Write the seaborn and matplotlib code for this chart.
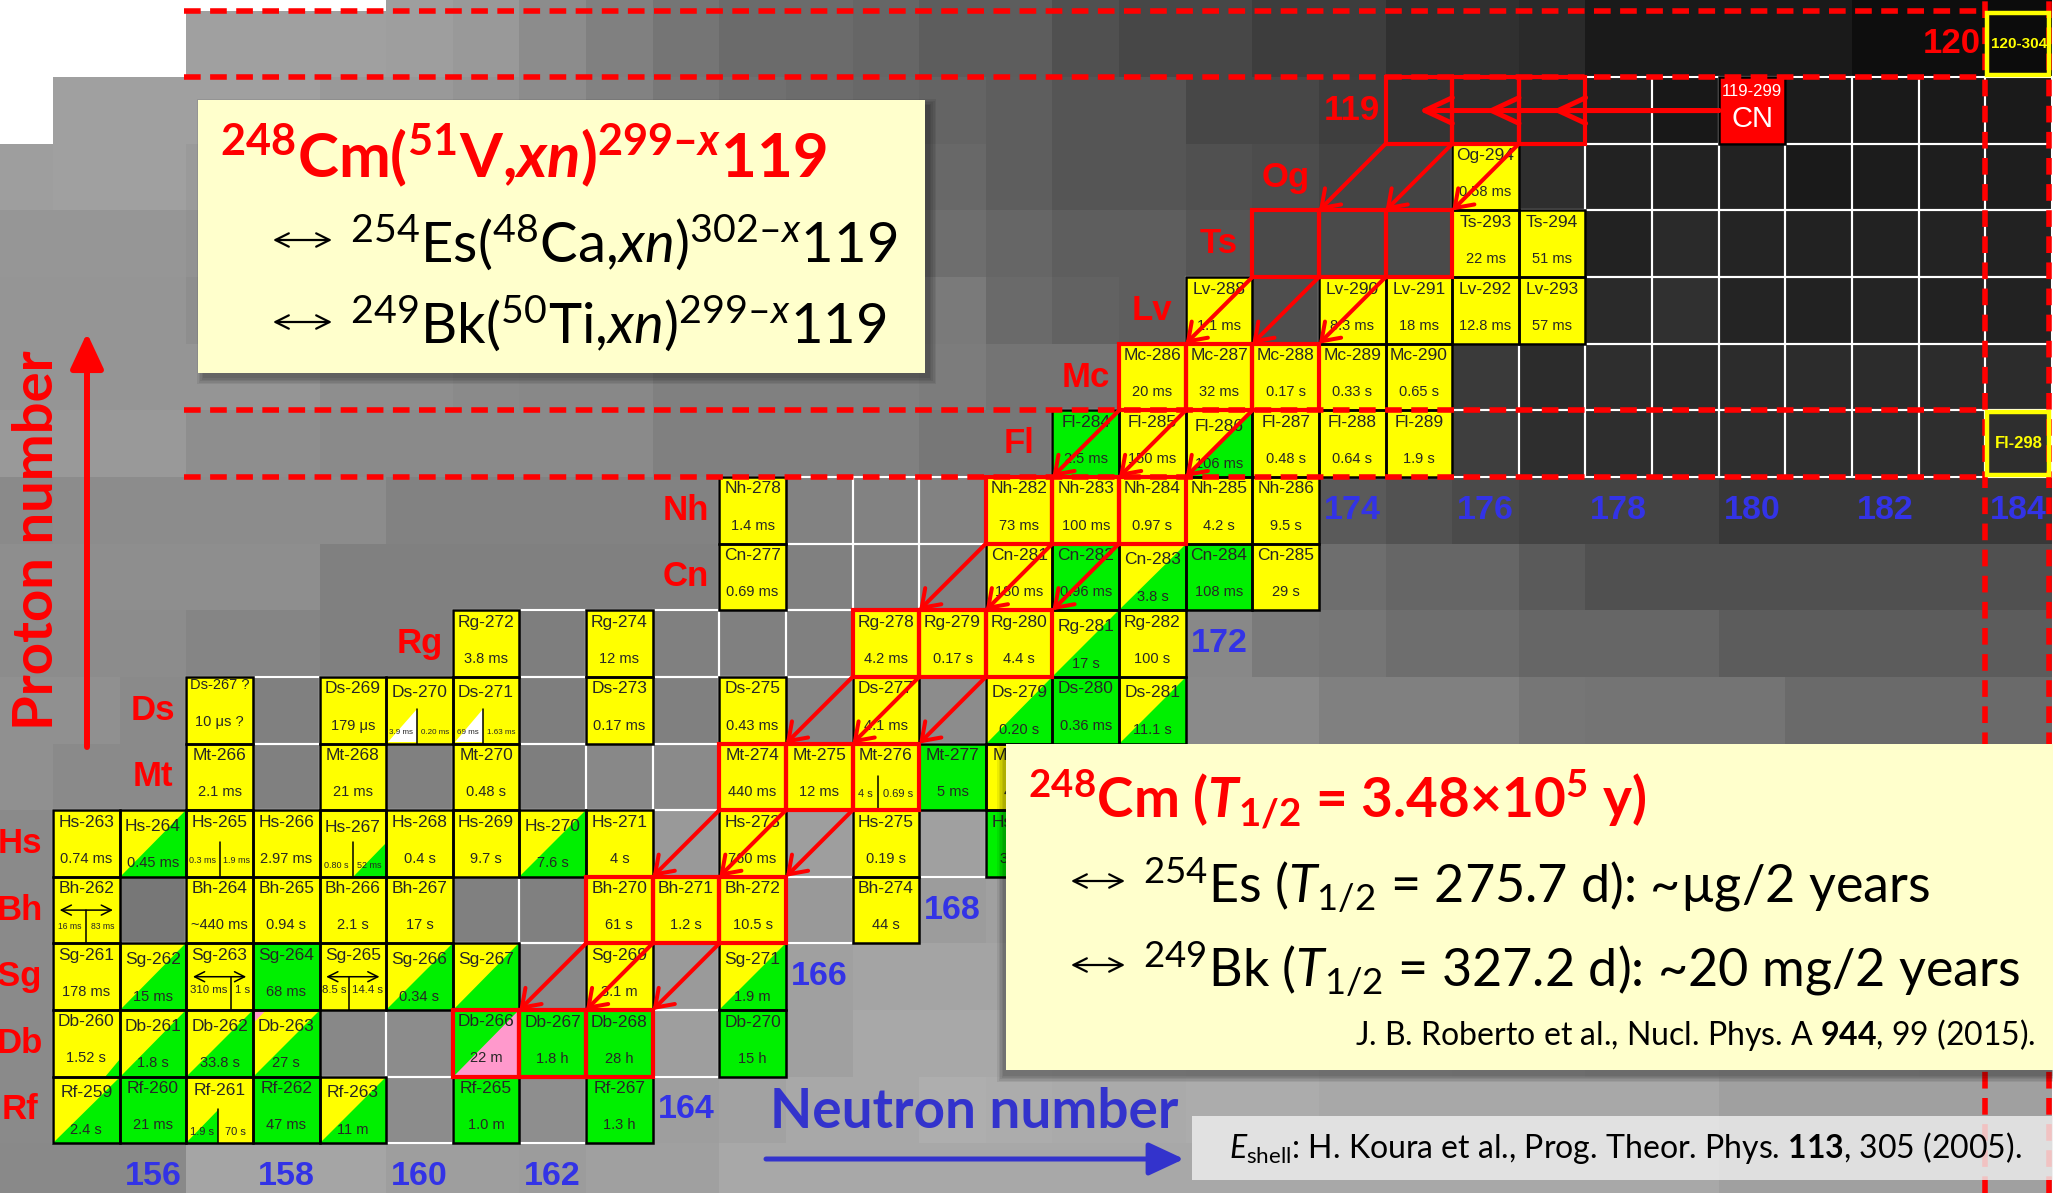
import numpy as np
import pandas as pd
import matplotlib
matplotlib.use("Agg")
import matplotlib.pyplot as plt
import seaborn as sns
from matplotlib.patches import Rectangle, Polygon

W, H, DPI = 2053, 1193, 100

# ------------------------------------------------------------------ data
ELEMENT_Z = {"Rf": 104, "Db": 105, "Sg": 106, "Bh": 107, "Hs": 108, "Mt": 109,
             "Ds": 110, "Rg": 111, "Cn": 112, "Nh": 113, "Fl": 114, "Mc": 115,
             "Lv": 116, "Ts": 117, "Og": 118}

# known nuclides per element: (mass number, colour style, half-life)
rf_cells = [(259, "yg", "2.4 s"), (260, "g", "21 ms"), (261, "split", "1.9 s|70 s"),
            (262, "g", "47 ms"), (263, "yg", "11 m"), (265, "g", "1.0 m"), (267, "g", "1.3 h")]
db_cells = [(260, "yc", "1.52 s"), (261, "yg", "1.8 s"), (262, "yg", "33.8 s"),
            (263, "pyg", "27 s"), (266, "gp", "22 m"), (267, "g", "1.8 h"),
            (268, "g", "28 h"), (270, "g", "15 h")]
sg_cells = [(261, "y", "178 ms"), (262, "yg", "15 ms"), (263, "split", "310 ms|1 s"),
            (264, "g", "68 ms"), (265, "split", "8.5 s|14.4 s"), (266, "yg", "0.34 s"),
            (267, "yg", ""), (269, "y", "3.1 m"), (271, "yg", "1.9 m")]
bh_cells = [(262, "split", "16 ms|83 ms"), (264, "y", "~440 ms"), (265, "y", "0.94 s"),
            (266, "y", "2.1 s"), (267, "y", "17 s"), (270, "y", "61 s"), (271, "y", "1.2 s"),
            (272, "y", "10.5 s"), (274, "y", "44 s")]
hs_cells = [(263, "y", "0.74 ms"), (264, "yg", "0.45 ms"), (265, "split", "0.3 ms|1.9 ms"),
            (266, "y", "2.97 ms"), (267, "split", "0.80 s|52 ms"), (268, "y", "0.4 s"),
            (269, "y", "9.7 s"), (270, "yg", "7.6 s"), (271, "y", "4 s"), (273, "y", "760 ms"),
            (275, "y", "0.19 s"), (277, "g", "34 ms")]
mt_cells = [(266, "y", "2.1 ms"), (268, "y", "21 ms"), (270, "y", "0.48 s"), (274, "y", "440 ms"),
            (275, "y", "12 ms"), (276, "split", "4 s|0.69 s"), (277, "g", "5 ms"), (278, "y", "4.5 s")]
ds_cells = [(267, "y", "10 μs ?"), (269, "y", "179 μs"), (270, "split", "3.9 ms|0.20 ms"),
            (271, "split", "69 ms|1.63 ms"), (273, "y", "0.17 ms"), (275, "y", "0.43 ms"),
            (277, "y", "4.1 ms"), (279, "yg", "0.20 s"), (280, "g", "0.36 ms"), (281, "yg", "11.1 s")]
rg_cells = [(272, "y", "3.8 ms"), (274, "y", "12 ms"), (278, "y", "4.2 ms"), (279, "y", "0.17 s"),
            (280, "y", "4.4 s"), (281, "yg", "17 s"), (282, "y", "100 s")]
cn_cells = [(277, "y", "0.69 ms"), (281, "y", "180 ms"), (282, "g", "0.96 ms"),
            (283, "yg", "3.8 s"), (284, "g", "108 ms"), (285, "y", "29 s")]
nh_cells = [(278, "y", "1.4 ms"), (282, "y", "73 ms"), (283, "y", "100 ms"),
            (284, "y", "0.97 s"), (285, "y", "4.2 s"), (286, "y", "9.5 s")]
fl_cells = [(284, "g", "2.5 ms"), (285, "y", "150 ms"), (286, "yg", "106 ms"),
            (287, "y", "0.48 s"), (288, "y", "0.64 s"), (289, "y", "1.9 s")]
mc_cells = [(286, "y", "20 ms"), (287, "y", "32 ms"), (288, "y", "0.17 s"),
            (289, "y", "0.33 s"), (290, "y", "0.65 s")]
lv_cells = [(288, "y", "1.1 ms"), (290, "y", "8.3 ms"), (291, "y", "18 ms"),
            (292, "y", "12.8 ms"), (293, "y", "57 ms")]
ts_cells = [(293, "y", "22 ms"), (294, "y", "51 ms")]
og_cells = [(294, "y", "0.58 ms")]

ALL_ROWS = {"Rf": rf_cells, "Db": db_cells, "Sg": sg_cells, "Bh": bh_cells, "Hs": hs_cells,
            "Mt": mt_cells, "Ds": ds_cells, "Rg": rg_cells, "Cn": cn_cells, "Nh": nh_cells,
            "Fl": fl_cells, "Mc": mc_cells, "Lv": lv_cells, "Ts": ts_cells, "Og": og_cells}

NAME_OVERRIDE = {("Ds", 267): "Ds-267 ?"}

# empty chart cells outlined in white: proton number -> (first N, last N)
GRID_SPANS = {104: (155, 163), 105: (155, 165), 106: (155, 165), 107: (155, 167),
              108: (155, 169), 109: (157, 169), 110: (157, 171), 111: (161, 171),
              112: (165, 173), 113: (165, 173), 114: (170, 184), 115: (171, 184),
              116: (172, 184), 117: (173, 184), 118: (176, 184), 119: (175, 184)}

# 248Cm + 51V -> 299-119 compound nucleus, xn evaporation residues and alpha chains
CN_Z, CN_A = 119, 299
CHAIN_Z = [119, 117, 115, 113, 111, 109, 107, 105]
CHAIN_N_FIRST = [175, 173, 171, 169, 167, 165, 163, 161]

# predicted spherical nuclei marked on the map
TARGET_CELLS = [(120, 304, "120-304"), (114, 298, "Fl-298")]

# row labels: (text, N position, Z position)
ROW_LABELS = [("Rf", 154, 104), ("Db", 154, 105), ("Sg", 154, 106), ("Bh", 154, 107),
              ("Hs", 154, 108), ("Mt", 156, 109), ("Ds", 156, 110), ("Rg", 160, 111),
              ("Cn", 164, 112), ("Nh", 164, 113), ("Fl", 169, 114), ("Mc", 170, 115),
              ("Lv", 171, 116), ("Ts", 172, 117), ("Og", 173, 118), ("119", 174, 119),
              ("120", 183, 120)]
# neutron-number labels: (N, Z position)
N_LABELS = [(156, 103), (158, 103), (160, 103), (162, 103), (164, 104), (166, 106),
            (168, 107), (172, 111), (174, 113), (176, 113), (178, 113), (180, 113),
            (182, 113), (184, 113)]

# shell-correction energy shading (grey level, 0 = black), N = 154..184, Z = 121..103
SHADE_N = list(range(154, 185))
SHADE_Z = list(range(121, 102, -1))
_ = np.nan
shade_rows = [
    [_, _, _, _, _, _, 158, 153, 140, 128, 117, 107, 107, 102, 93, 93, 80, 71, 71, 61, 61, 48, 48, 42, 26, 26, 26, 26, 14, 14, 12],
    [_, _, _, 160, 160, 160, 158, 153, 140, 128, 117, 107, 107, 102, 93, 93, 80, 71, 71, 61, 61, 48, 48, 42, 26, 26, 26, 26, 14, 14, 12],
    [_, 160, 160, 160, 160, 153, 153, 148, 140, 130, 120, 112, 108, 104, 100, 94, 85, 85, 71, 71, 62, 52, 48, 42, 34, 24, 24, 28, 26, 26, 26],
    [158, 160, 160, 154, 154, 150, 150, 144, 136, 128, 120, 116, 112, 108, 104, 94, 85, 85, 80, 76, 68, 68, 60, 46, 34, 34, 34, 26, 28, 30, 30],
    [150, 150, 150, 146, 146, 144, 144, 140, 134, 128, 122, 118, 116, 114, 110, 102, 94, 94, 85, 74, 74, 74, 70, 60, 34, 42, 36, 34, 34, 35, 34],
    [149, 149, 149, 142, 142, 142, 142, 138, 134, 130, 126, 122, 120, 118, 122, 106, 98, 94, 88, 78, 70, 70, 70, 70, 42, 48, 36, 34, 36, 34, 34],
    [149, 149, 149, 149, 149, 142, 142, 138, 136, 136, 128, 128, 128, 128, 124, 116, 116, 100, 100, 100, 100, 100, 58, 44, 46, 44, 44, 44, 44, 44, 44],
    [153, 153, 153, 142, 142, 138, 138, 138, 138, 138, 128, 128, 128, 128, 119, 119, 110, 110, 110, 110, 110, 110, 62, 46, 46, 46, 46, 46, 46, 46, 46],
    [138, 140, 140, 140, 140, 140, 130, 130, 130, 130, 130, 130, 130, 130, 130, 115, 115, 115, 115, 115, 90, 82, 74, 68, 68, 68, 56, 56, 56, 56, 56],
    [142, 142, 142, 142, 142, 128, 128, 128, 128, 128, 128, 128, 128, 128, 128, 118, 118, 118, 118, 118, 110, 102, 102, 90, 80, 80, 80, 80, 80, 80, 80],
    [140, 140, 140, 133, 133, 128, 128, 128, 126, 128, 128, 128, 128, 128, 128, 128, 128, 128, 136, 122, 118, 110, 110, 102, 102, 102, 92, 92, 92, 92, 92],
    [144, 144, 138, 130, 128, 126, 126, 126, 126, 126, 128, 130, 133, 136, 140, 138, 138, 138, 138, 138, 128, 128, 128, 118, 116, 116, 116, 106, 106, 106, 106],
    [144, 138, 138, 128, 128, 128, 128, 128, 126, 136, 138, 140, 140, 140, 140, 140, 140, 140, 138, 136, 134, 130, 128, 126, 124, 120, 118, 116, 114, 112, 110],
    [138, 136, 136, 136, 136, 136, 136, 136, 136, 136, 153, 155, 158, 158, 160, 160, 158, 156, 154, 150, 148, 146, 144, 140, 138, 136, 134, 132, 130, 128, 126],
    [138, 130, 119, 128, 128, 128, 128, 128, 128, 140, 140, 140, 153, 156, 156, 160, 162, 160, 158, 156, 154, 152, 150, 148, 146, 144, 142, 140, 138, 136, 134],
    [138, 134, 134, 134, 134, 134, 134, 134, 136, 148, 154, 156, 160, 164, 164, 164, 162, 160, 158, 156, 154, 152, 150, 148, 146, 144, 142, 140, 138, 136, 134],
    [138, 136, 136, 136, 136, 136, 140, 140, 142, 150, 158, 162, 160, 168, 168, 168, 166, 166, 164, 164, 162, 162, 160, 160, 158, 158, 156, 156, 154, 152, 150],
    [138, 138, 138, 138, 138, 138, 140, 142, 142, 158, 158, 162, 168, 168, 174, 172, 170, 170, 172, 172, 168, 168, 168, 168, 168, 168, 160, 160, 160, 160, 160],
    [137, 137, 137, 165, 165, 165, 158, 158, 156, 160, 160, 168, 168, 168, 168, 168, 168, 168, 168, 168, 168, 168, 168, 168, 168, 168, 160, 160, 160, 160, 160],
]
shade_df = pd.DataFrame(np.array(shade_rows, dtype=float), index=SHADE_Z, columns=SHADE_N)

# ------------------------------------------------------------------ style
YELLOW, GREEN, PINK = "#ffff00", "#00f000", "#ff99cc"
RED, BLUE = "#ff0000", "#3333e6"
BOX_YELLOW = "#ffffcc"
CELL_FONT = "Liberation Sans"

SPLIT_CELLS = {
    ("Rf", 261): dict(kind="green_left", d=0.48, fs=8.0, ty=0.175, ny=0.785),
    ("Hs", 265): dict(kind="plain", d=0.50, fs=6.5, ty=0.24, ny=0.815),
    ("Hs", 267): dict(kind="green_right", d=0.50, fs=6.5, ty=0.165, ny=0.745),
    ("Mt", 276): dict(kind="plain", d=0.38, fs=8.0, ty=0.24, ny=0.82),
    ("Ds", 270): dict(kind="white_left", d=0.46, fs=5.8, ty=0.17, ny=0.76),
    ("Ds", 271): dict(kind="white_left", d=0.46, fs=5.8, ty=0.17, ny=0.76),
    ("Bh", 262): dict(kind="arrow", d=0.49, fs=6.2, ty=0.25, ny=0.825),
    ("Sg", 263): dict(kind="arrow", d=0.675, fs=8.2, ty=0.30, ny=0.825),
    ("Sg", 265): dict(kind="arrow", d=0.44, fs=8.2, ty=0.30, ny=0.825),
}
TEXT_Y = {"y": (0.82, 0.27), "g": (0.82, 0.27), "yg": (0.76, 0.20), "yc": (0.835, 0.275),
          "pyg": (0.75, 0.20), "gp": (0.835, 0.275)}

sns.set_theme(style="white")
plt.rcParams.update({
    "mathtext.fontset": "custom",
    "mathtext.default": "regular",
    "mathtext.rm": "Lato",
    "mathtext.it": "Lato:italic",
    "mathtext.bf": "Lato:bold",
    "mathtext.bfit": "Lato:italic:bold",
    "mathtext.sf": "Lato",
})
plt.rcParams["font.family"] = ["Liberation Sans", "DejaVu Sans"]

# ------------------------------------------------------------------ geometry
CELL = 66.63            # pixels per nuclide cell
X_EDGE, Y_EDGE = 53.0, 1143.3   # left edge of N=155, bottom edge of Z=104
N_LEFT = 154.5 - X_EDGE / CELL
N_RIGHT = 154.5 + (W - X_EDGE) / CELL
Z_BOTTOM = 103.5 - (H - Y_EDGE) / CELL
Z_TOP = 103.5 + Y_EDGE / CELL

# target-material panel (pixel box) and its left edge in neutron-number units
PANEL2 = (1006, 744, 2060, 1070)
PANEL2_N = 154.5 + (PANEL2[0] - X_EDGE) / CELL
PANEL2_ZTOP = 103.5 + (Y_EDGE - PANEL2[1]) / CELL

fig = plt.figure(figsize=(W / DPI, H / DPI), dpi=DPI)
fig.patch.set_facecolor("white")
renderer = fig.canvas.get_renderer()

xspan, yspan = N_RIGHT - N_LEFT, Z_TOP - Z_BOTTOM
bg_ax = fig.add_axes([(SHADE_N[0] - 0.5 - N_LEFT) / xspan, (SHADE_Z[-1] - 0.5 - Z_BOTTOM) / yspan,
                      len(SHADE_N) / xspan, len(SHADE_Z) / yspan])
sns.heatmap(shade_df, ax=bg_ax, cmap="gray", vmin=0, vmax=255, cbar=False,
            xticklabels=False, yticklabels=False, mask=shade_df.isna())
bg_ax.set_axis_off()

ax = fig.add_axes([0, 0, 1, 1])
ax.set_xlim(N_LEFT, N_RIGHT)
ax.set_ylim(Z_BOTTOM, Z_TOP)
ax.set_axis_off()
ax.set_zorder(2)

# region of the map left visible by the target-material panel
visible_clip = Rectangle((N_LEFT - 1, Z_BOTTOM - 1), PANEL2_N - N_LEFT + 1, Z_TOP - Z_BOTTOM + 2,
                         transform=ax.transData, fc="none", ec="none")


def fpx(x, y):
    """figure-fraction position of a pixel location (origin top-left)"""
    return x / W, 1 - y / H


# white outlines of empty chart cells
for z, (n0, n1) in GRID_SPANS.items():
    for n in range(n0, n1 + 1):
        ax.add_patch(Rectangle((n - 0.5, z - 0.5), 1, 1, fill=False, ec="white", lw=1.5, zorder=1))


def tri(x0, y0, pts, color, z=3.1):
    ax.add_patch(Polygon([(x0 + a, y0 + b) for a, b in pts], closed=True, fc=color, ec="none", zorder=z))


def cell_text(x, y, s, fs, hidden, **kw):
    t = ax.text(x, y, s, ha="center", va="center", fontsize=fs, family=CELL_FONT, zorder=4, **kw)
    if hidden:
        # only the part left of the panel edge is visible: keep that part of the string
        t.set_clip_path(visible_clip)
        edge_px = PANEL2[0] + 10
        bb = t.get_window_extent(renderer)
        if bb.x1 > edge_px:
            t.set_ha("left")
            t.set_x(ax.transData.inverted().transform((bb.x0, bb.y0))[0])
            while len(t.get_text()) > 1 and t.get_window_extent(renderer).x1 > edge_px:
                t.set_text(t.get_text()[:-1].rstrip())
    return t


def draw_nuclide(sym, A, style, hl):
    Z = ELEMENT_Z[sym]
    N = A - Z
    x0, y0 = N - 0.5, Z - 0.5
    hidden = (x0 + 1 > PANEL2_N) and (y0 < PANEL2_ZTOP)
    name = NAME_OVERRIDE.get((sym, A), f"{sym}-{A}")
    base = GREEN if style in ("g", "gp") else YELLOW
    ax.add_patch(Rectangle((x0, y0), 1, 1, fc=base, ec="none", zorder=3))
    if style in ("yg", "pyg"):
        tri(x0, y0, [(0, 0), (1, 0), (1, 1)], GREEN)
    if style == "pyg":
        tri(x0, y0, [(0, 1), (0.2, 1), (0, 0.8)], PINK)
    if style == "gp":
        tri(x0, y0, [(0, 0), (1, 0), (1, 1)], PINK)
    if style == "yc":
        tri(x0, y0, [(0.78, 0), (1, 0), (1, 0.27)], GREEN)
    ax.add_patch(Rectangle((x0, y0), 1, 1, fill=False, ec="black", lw=1.8, zorder=3.5))

    name_fs = 10.5 if name.endswith("?") else 12.5
    if style == "split":
        sp = SPLIT_CELLS[(sym, A)]
        d = sp["d"]
        if sp["kind"] == "green_left":
            tri(x0, y0, [(0, 0), (d, 0), (d, 0.5)], GREEN)
        elif sp["kind"] == "green_right":
            tri(x0, y0, [(d, 0), (1, 0), (1, 0.5)], GREEN)
        elif sp["kind"] == "white_left":
            tri(x0, y0, [(0.03, 0.02), (d, 0.02), (d, 0.52)], "white")
        if sp["kind"] == "arrow":
            ax.plot([x0 + d, x0 + d], [y0, y0 + 0.5], color="black", lw=1.1, zorder=3.6)
            ax.annotate("", xy=(x0 + 0.9, y0 + 0.5), xytext=(x0 + 0.1, y0 + 0.5),
                        arrowprops=dict(arrowstyle="<->", lw=1.1, color="black", mutation_scale=18,
                                        shrinkA=0, shrinkB=0), zorder=3.6)
        else:
            ax.plot([x0 + d, x0 + d], [y0, y0 + 0.52], color="black", lw=1.1, zorder=3.6)
        left, right = hl.split("|")
        cell_text(x0 + d / 2, y0 + sp["ty"], left, sp["fs"], hidden)
        cell_text(x0 + (1 + d) / 2, y0 + sp["ty"], right, sp["fs"], hidden)
        cell_text(N, y0 + sp["ny"], name, name_fs, hidden)
    else:
        ny, ty = TEXT_Y[style]
        if name.endswith("?"):
            ny, ty = 0.875, 0.325
        cell_text(N, y0 + ny, name, name_fs, hidden)
        if hl:
            cell_text(N, y0 + ty, hl, 10.5, hidden)


for sym, cells in ALL_ROWS.items():
    for A, style, hl in cells:
        draw_nuclide(sym, A, style, hl)

# compound nucleus
cn_n = CN_A - CN_Z
ax.add_patch(Rectangle((cn_n - 0.5, CN_Z - 0.5), 1, 1, fc=RED, ec="black", lw=1.8, zorder=3.5))
ax.text(cn_n, CN_Z + 0.29, f"{CN_Z}-{CN_A}", ha="center", va="center", color="white",
        fontsize=12, family=CELL_FONT, zorder=4)
ax.text(cn_n, CN_Z - 0.12, "CN", ha="center", va="center", color="white",
        fontsize=21, family=CELL_FONT, zorder=4)

# predicted doubly-magic region boxes
for z, a, lab in TARGET_CELLS:
    n = a - z
    ax.add_patch(Rectangle((n - 0.47, z - 0.47), 0.93, 0.94, fill=False, ec=YELLOW, lw=3.2, zorder=5))
    ax.text(n, z, lab, ha="center", va="center", color=YELLOW, fontsize=11 if z == 120 else 12,
            fontweight="bold", family=CELL_FONT, zorder=5)

# magic-number bands (Z = 114, 120; N = 184)
dash = (0, (3.0, 1.7))
ax.hlines([119.5, 120.5, 113.5, 114.5], 156.47, 183.45, colors=RED, lw=4, linestyles=dash, zorder=4.5)
ax.vlines([183.5, 184.45], Z_BOTTOM, Z_TOP, colors=RED, lw=4, linestyles=dash, zorder=4.5)

# evaporation residues and their alpha-decay chains
for z, n0 in zip(CHAIN_Z, CHAIN_N_FIRST):
    for n in range(n0, n0 + 3):
        ax.add_patch(Rectangle((n - 0.5, z - 0.5), 1, 1, fill=False, ec=RED, lw=3.0, zorder=5))
for n in range(CHAIN_N_FIRST[0], CHAIN_N_FIRST[0] + 3):
    ax.annotate("", xy=(n, CN_Z), xytext=(cn_n - 0.5, CN_Z),
                arrowprops=dict(arrowstyle="->,head_length=0.9,head_width=0.42", mutation_scale=22,
                                lw=3.6, color=RED, shrinkA=0, shrinkB=0), zorder=6)
for k in range(len(CHAIN_Z) - 1):
    zp = CHAIN_Z[k]
    for n in range(CHAIN_N_FIRST[k], CHAIN_N_FIRST[k] + 3):
        ax.annotate("", xy=(n - 1.5, zp - 1.5), xytext=(n - 0.5, zp - 0.5),
                    arrowprops=dict(arrowstyle="->,head_length=0.82,head_width=0.57", mutation_scale=14.4,
                                    lw=2.9, color=RED, shrinkA=0, shrinkB=0), zorder=6)

# element / proton-number labels and neutron-number labels
for lab, n, z in ROW_LABELS:
    ax.text(n, z, lab, ha="center", va="center", color=RED, fontsize=25, fontweight="bold",
            family=CELL_FONT, zorder=5.5)
for n, z in N_LABELS:
    ax.text(n, z, str(n), ha="center", va="center", color=BLUE, fontsize=24.5, fontweight="bold",
            family=CELL_FONT, zorder=5.5)


# ------------------------------------------------------------------ text panels
def panel(x0, y0, x1, y1, fc, alpha=1.0, shadow=(0, 0), z=10):
    if shadow != (0, 0):
        sx, sy = shadow
        for k in range(5):
            e = 1.5 * k
            ax.add_patch(Rectangle(fpx(x0 + sx - e, y1 + sy + e), (x1 - x0 + 2 * e) / W,
                                   (y1 - y0 + 2 * e) / H, transform=fig.transFigure, fc="black",
                                   ec="none", alpha=0.07, zorder=z - 0.5, clip_on=False))
    ax.add_patch(Rectangle(fpx(x0, y1), (x1 - x0) / W, (y1 - y0) / H, transform=fig.transFigure,
                           fc=fc, ec="none", alpha=alpha, zorder=z, clip_on=False))


def ftext(x, y, s, **kw):
    kw.setdefault("va", "baseline")
    kw.setdefault("ha", "left")
    kw.setdefault("zorder", 11)
    ax.text(*fpx(x, y), s, transform=fig.transFigure, **kw)


def farrow(x0, y0, x1, y1, style, color, lw, ms, z=11):
    ax.annotate("", xy=fpx(x1, y1), xytext=fpx(x0, y0), xycoords="figure fraction",
                textcoords="figure fraction",
                arrowprops=dict(arrowstyle=style, lw=lw, color=color, mutation_scale=ms,
                                shrinkA=0, shrinkB=0), zorder=z)


# reaction panel
panel(198, 100, 925, 373, BOX_YELLOW, shadow=(5, 5))
ftext(220, 178, r"$^{248}$Cm($^{51}$V,$\mathbfit{xn}$)$^{299–\mathbfit{x}}$119",
      color=RED, fontsize=44.5, fontweight="bold", family="Lato")
farrow(273, 240, 332, 240, "<->", "black", 1.6, 24)
ftext(350, 262, r"$^{254}$Es($^{48}$Ca,$\mathit{xn}$)$^{302–\mathit{x}}$119",
      color="black", fontsize=40.5, family="Lato")
farrow(273, 322, 332, 322, "<->", "black", 1.6, 24)
ftext(350, 343, r"$^{249}$Bk($^{50}$Ti,$\mathit{xn}$)$^{299–\mathit{x}}$119",
      color="black", fontsize=40.5, family="Lato")

# target-material panel
panel(*PANEL2, BOX_YELLOW, shadow=(-3, 6))
ftext(1028, 818, r"$^{248}$Cm ($\mathbfit{T}_{1/2}$ = 3.48$\times$10$^{5}$ y)",
      color=RED, fontsize=39.5, fontweight="bold", family="Lato")
farrow(1071, 881, 1125, 881, "<->", "black", 1.6, 24)
ftext(1143, 903, r"$^{254}$Es ($\mathit{T}_{1/2}$ = 275.7 d): ~µg/2 years",
      color="black", fontsize=37.5, family="Lato")
farrow(1071, 965, 1125, 965, "<->", "black", 1.6, 24)
ftext(1143, 987, r"$^{249}$Bk ($\mathit{T}_{1/2}$ = 327.2 d): ~20 mg/2 years",
      color="black", fontsize=37.5, family="Lato")
ftext(2036, 1045, r"J. B. Roberto et al., Nucl. Phys. A $\mathbf{944}$, 99 (2015).",
      ha="right", color="black", fontsize=23, family="Lato")

# shell-energy reference
panel(1192, 1116, 2060, 1180, "#eeeeee", alpha=0.82)
ftext(1229, 1158, r"$\mathit{E}_{\mathrm{shell}}$: H. Koura et al., Prog. Theor. Phys. $\mathbf{113}$, 305 (2005).",
      color="black", fontsize=23, family="Lato")

# axis titles
ftext(770, 1128, "Neutron number", color="#3333cc", fontsize=39.5, fontweight="bold", family="Lato", zorder=9)
farrow(766, 1159, 1184, 1159, "-|>,head_length=1.5,head_width=0.7", "#3333cc", 3.6, 14.4, z=9)
ftext(37, 540, "Proton number", color=RED, fontsize=40.5, fontweight="bold", family="Lato",
      rotation=90, ha="center", va="center", zorder=9)
farrow(87, 747, 87, 333, "-|>,head_length=1.5,head_width=0.7", RED, 4.3, 14.4, z=9)

fig.savefig("out.png", dpi=DPI)
